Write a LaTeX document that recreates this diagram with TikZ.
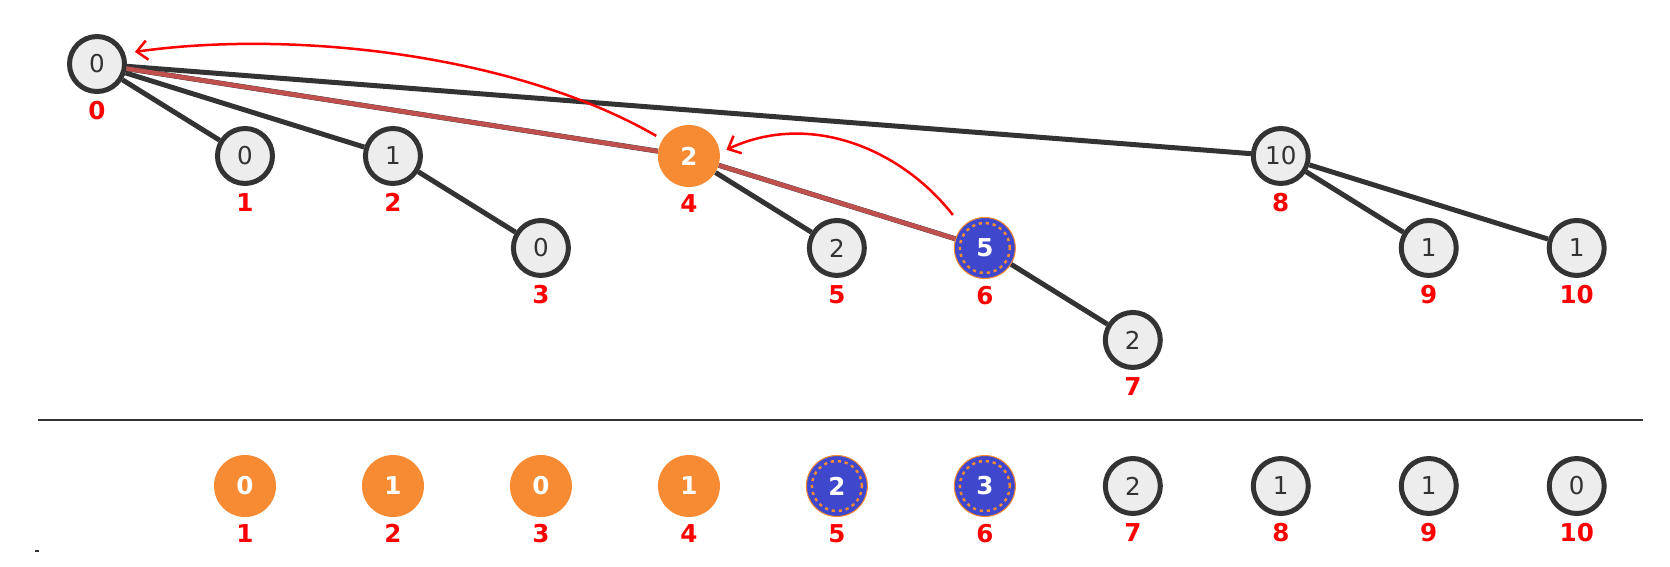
\documentclass[tikz,border=0pt]{standalone}
\usepackage{fontspec}
\setmainfont{DejaVu Sans}
\usetikzlibrary{arrows.meta,positioning}

\definecolor{nodegray}{HTML}{EDEDED}
\definecolor{darkline}{HTML}{333333}
\definecolor{orangefill}{HTML}{F68B33}
\definecolor{bluefill}{HTML}{3F48CC}
\definecolor{pathred}{HTML}{C0504D}

\begin{document}
\begin{tikzpicture}[x = 0.02cm, y = -0.02cm,
                    node distance = 1.84cm and 2.96cm, on grid,
                    label distance = 0.14cm]
  \useasboundingbox (0,0) rectangle (1670,566);
  \tikzset{VertexStyle/.style = {shape        = circle,
                                 draw         = darkline,
                                 fill         = nodegray,
                                 text         = darkline,
                                 line width   = 0.1cm,
                                 inner sep    = 0pt,
                                 minimum size = 1.1cm,
                                 font         = \fontsize{14}{16}\selectfont}}
  \tikzset{OrangeStyle/.style = {shape        = circle,
                                 fill         = orangefill,
                                 text         = white,
                                 inner sep    = 0pt,
                                 minimum size = 1.24cm,
                                 font         = \bfseries\fontsize{14}{16}\selectfont}}
  \tikzset{BlueStyle/.style   = {shape        = circle,
                                 fill         = bluefill,
                                 draw         = orangefill,
                                 line width   = 0.6pt,
                                 text         = white,
                                 inner sep    = 0pt,
                                 minimum size = 1.22cm,
                                 font         = \bfseries\fontsize{14}{16}\selectfont,
                                 path picture = {\draw[orangefill, line width = 1.4pt,
                                                       dash pattern = on 1.8pt off 2.2pt]
                                   (path picture bounding box.center) circle [radius = 0.5cm];}}}
  \tikzset{LabelStyle/.style  = {text         = red,
                                 inner sep    = 0pt,
                                 font         = \bfseries\fontsize{14}{16}\selectfont}}
  \tikzset{EdgeStyle/.style   = {draw         = darkline,
                                 line width   = 0.1cm}}
  \tikzset{PathStyle/.style   = {draw         = pathred,
                                 line width   = 0.09cm}}
  \tikzset{ArrowStyle/.style  = {draw         = red,
                                 line width   = 0.05cm,
                                 -{Straight Barb[length = 6pt, width = 11pt]}}}
  % tree
     \node[VertexStyle, label = {[LabelStyle]below:0}] (v0) at (97,64) {0};
     \node[VertexStyle, below right = of v0, label = {[LabelStyle]below:1}] (v1) {0};
     \node[VertexStyle, right = of v1, label = {[LabelStyle]below:2}] (v2) {1};
     \node[VertexStyle, below right = of v2, label = {[LabelStyle]below:3}] (v3) {0};
     \node[OrangeStyle, right = 5.92cm of v2, label = {[LabelStyle]below:4}] (v4) {2};
     \node[VertexStyle, below right = of v4, label = {[LabelStyle]below:5}] (v5) {2};
     \node[BlueStyle, right = of v5, label = {[LabelStyle]below:6}] (v6) {5};
     \node[VertexStyle, below right = of v6, label = {[LabelStyle]below:7}] (v7) {2};
     \node[VertexStyle, right = 11.84cm of v4, label = {[LabelStyle]below:8}] (v8) {10};
     \node[VertexStyle, below right = of v8, label = {[LabelStyle]below:9}] (v9) {1};
     \node[VertexStyle, right = of v9, label = {[LabelStyle]below:10}] (v10) {1};

     \draw[EdgeStyle] (v0) -- (v1);
     \draw[EdgeStyle] (v0) -- (v2);
     \draw[EdgeStyle] (v2) -- (v3);
     \draw[EdgeStyle] (v0) -- (v8);
     \draw[EdgeStyle] (v4) -- (v5);
     \draw[EdgeStyle] (v6) -- (v7);
     \draw[EdgeStyle] (v8) -- (v9);
     \draw[EdgeStyle] (v8) -- (v10);
     \draw[EdgeStyle] (v0) -- (v4);
     \draw[EdgeStyle] (v4) -- (v6);
     \draw[PathStyle] (v0) -- (v4);
     \draw[PathStyle] (v4) -- (v6);

     \draw[ArrowStyle, shorten < = 0.14cm, shorten > = 0.2cm]
       (v4.148) to[out = 150, in = 8, looseness = 0.8] (v0.21);
     \draw[ArrowStyle, shorten < = 0.3cm, shorten > = 0.14cm]
       (v6.137) to[out = 128, in = 25] (v4.6);

  % separator
     \coordinate (sepL) at (38,420);
     \coordinate (sepR) at (1643,420);
     \draw[darkline, line width = 0.05cm] (sepL) -- (sepR);
     \fill[darkline] (35,550) rectangle (39,552);

  % array
     \node[OrangeStyle, label = {[LabelStyle]below:1}] (b1) at (245,486) {0};
     \node[OrangeStyle, right = of b1, label = {[LabelStyle]below:2}] (b2) {1};
     \node[OrangeStyle, right = of b2, label = {[LabelStyle]below:3}] (b3) {0};
     \node[OrangeStyle, right = of b3, label = {[LabelStyle]below:4}] (b4) {1};
     \node[BlueStyle, right = of b4, label = {[LabelStyle]below:5}] (b5) {2};
     \node[BlueStyle, right = of b5, label = {[LabelStyle]below:6}] (b6) {3};
     \node[VertexStyle, right = of b6, label = {[LabelStyle]below:7}] (b7) {2};
     \node[VertexStyle, right = of b7, label = {[LabelStyle]below:8}] (b8) {1};
     \node[VertexStyle, right = of b8, label = {[LabelStyle]below:9}] (b9) {1};
     \node[VertexStyle, right = of b9, label = {[LabelStyle]below:10}] (b10) {0};

  \end{tikzpicture}
\end{document}
